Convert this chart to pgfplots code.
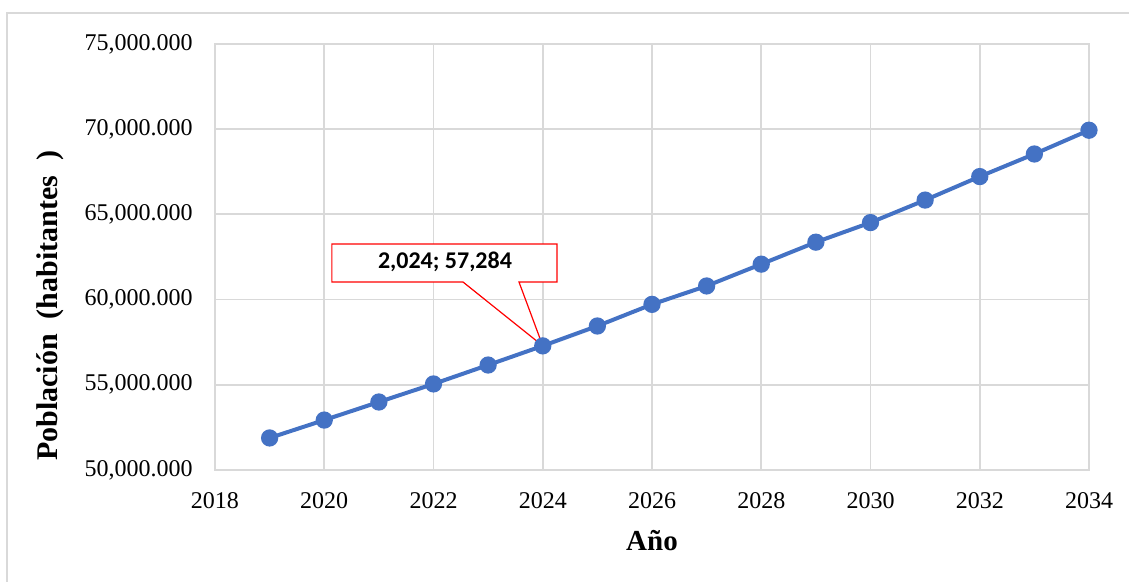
\documentclass[border=0pt]{standalone}
\usepackage{fontspec}
\setmainfont{Liberation Serif}
\newfontfamily\calibri{Carlito}
\usepackage{pgfplots}
\pgfplotsset{compat=1.18}
\definecolor{serie}{HTML}{4472C4}
\definecolor{rejilla}{HTML}{D9D9D9}

\begin{document}
\begin{tikzpicture}
\begin{axis}[
  at={(0,0)}, anchor=south west,
  scale only axis, width=437pt, height=213pt,
  xmin=2018, xmax=2034, ymin=50000, ymax=75000,
  scaled x ticks=false, scaled y ticks=false,
  xtick={2018,2020,2022,2024,2026,2028,2030,2032,2034},
  xticklabels={2018,2020,2022,2024,2026,2028,2030,2032,2034},
  ytick={50000,55000,60000,65000,70000,75000},
  yticklabels={{50,000.000},{55,000.000},{60,000.000},{65,000.000},{70,000.000},{75,000.000}},
  grid=major,
  major grid style={rejilla, line width=0.9pt},
  axis line style={rejilla, line width=0.9pt},
  major tick length=0pt,
  tick style={draw=none},
  ticklabel style={font=\fontsize{12}{14}\selectfont},
  yticklabel style={anchor=east, inner sep=0pt, xshift=-11pt},
  xticklabel style={anchor=north, inner sep=0pt, yshift=-11pt},
  xlabel={\textbf{Año}},
  xlabel style={at={(axis description cs:0.5,-0.1878)}, anchor=base,
    font=\fontsize{14.5}{17}\selectfont},
  ylabel={\textbf{Población\ \ (habitantes\ \ )}},
  ylabel style={at={(axis description cs:-0.189,0.385)}, anchor=center,
    font=\fontsize{15}{17}\selectfont},
]
% projected population by year
\addplot[serie, line width=2pt, mark=*, mark size=3.3pt,
  mark options={fill=serie, draw=serie, solid}] table {
x y
2019 51880
2020 52930
2021 53990
2022 55050
2023 56160
2024 57284
2025 58450
2026 59720
2027 60800
2028 62080
2029 63370
2030 64520
2031 65840
2032 67220
2033 68545
2034 69940
};
% callout for the 2024 value
\fill[white] (axis cs:2020.14,63263) rectangle (axis cs:2024.26,61033);
\draw[red, line width=0.6pt]
  (axis cs:2023.565,61033) -- (axis cs:2024.26,61033) -- (axis cs:2024.26,63263)
  -- (axis cs:2020.14,63263) -- (axis cs:2020.14,61033) -- (axis cs:2022.54,61033)
  -- (axis cs:2024,57284) -- cycle;
\node[font=\calibri\bfseries\fontsize{12}{14}\selectfont, anchor=center]
  at (axis cs:2022.21,62190) {2,024; 57,284};
\end{axis}
% chart area border
\draw[rejilla, line width=0.75pt] (-104pt,-60pt) -- (-104pt,228.5pt) -- (460pt,228.5pt);
\pgfresetboundingbox
\useasboundingbox (-107.5pt,-56pt) rectangle (457pt,235pt);
\end{tikzpicture}
\end{document}
